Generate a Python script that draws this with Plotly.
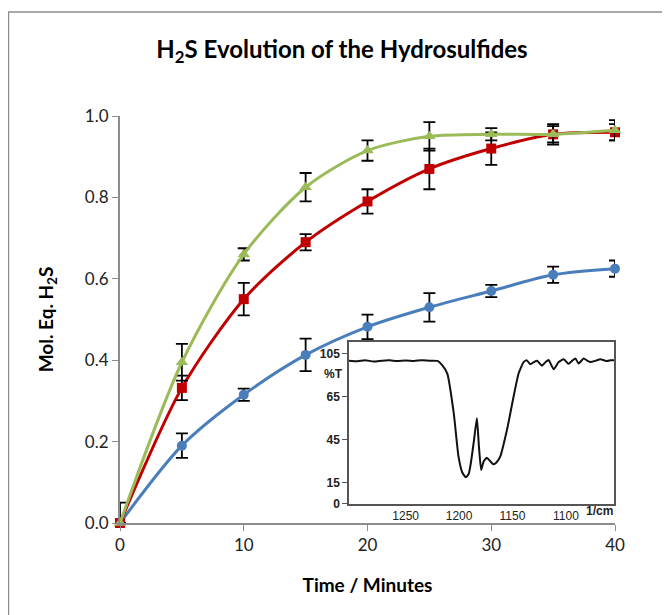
import plotly.graph_objects as go

# ---- main data ----
time_min = [0, 5, 10, 15, 20, 25, 30, 35, 40]

blue_vals = [0.0, 0.19, 0.315, 0.413, 0.482, 0.53, 0.57, 0.61, 0.625]
blue_err = [0.0, 0.03, 0.015, 0.04, 0.03, 0.035, 0.015, 0.02, 0.02]

red_vals = [0.0, 0.332, 0.55, 0.69, 0.79, 0.87, 0.92, 0.955, 0.96]
red_err = [0.0, 0.03, 0.04, 0.02, 0.03, 0.05, 0.04, 0.025, 0.02]

green_vals = [0.0, 0.395, 0.66, 0.825, 0.915, 0.95, 0.955, 0.955, 0.965]
green_err_plus = [0.05, 0.045, 0.015, 0.035, 0.025, 0.035, 0.015, 0.02, 0.025]
green_err_minus = [0.0, 0.045, 0.015, 0.035, 0.025, 0.035, 0.015, 0.02, 0.025]

y_ticks = [0.0, 0.2, 0.4, 0.6, 0.8, 1.0]
y_tick_labels = ["0.0", "0.2", "0.4", "0.6", "0.8", "1.0"]
x_ticks = [0, 10, 20, 30, 40]

# ---- inset IR spectrum (wavenumber 1/cm, %T) ----
ir_wavenumber = [1303, 1295, 1288, 1280, 1272, 1265, 1258, 1250, 1242, 1235, 1228, 1220,
                 1216, 1211, 1205, 1200.5, 1197, 1193.6, 1191, 1189, 1186, 1183.3,
                 1181.4, 1179.3, 1177.1, 1174, 1171, 1167.8, 1165, 1161.5, 1155.2,
                 1149, 1144.3, 1139.6, 1136.5, 1133.4, 1130, 1127, 1122.4, 1119,
                 1116.2, 1111.5, 1106.8, 1102, 1097.6, 1094, 1091.2, 1088.1, 1083.4,
                 1080, 1077.1, 1072, 1067.8, 1061.5, 1058, 1055]
ir_transmittance = [100, 99.6, 100.3, 99.4, 100, 100.2, 99.7, 100.1, 99.8, 100.3, 100, 99.8,
                    97, 91, 63.5, 33, 22, 18.6, 21, 28.4, 44.6, 59.8,
                    40, 23.7, 29.5, 32.3, 30, 27.7, 29, 33, 51.6,
                    74.8, 91, 99, 100.2, 97.5, 99, 100, 96.5, 99,
                    100.5, 94, 99, 101, 97.8, 100, 101.5, 98, 101.5,
                    100, 99, 100, 101, 99.7, 100.3, 100.2]
ir_tick_vals = [0, 15, 45, 75, 105]
ir_tick_labels = ["0", "15", "45", "65", "105"]
ir_x_ticks = [1250, 1200, 1150, 1100]

BLUE = "#4a7ebb"
RED = "#c00000"
GREEN = "#9bbb59"
FONT = "Lato, Open Sans, sans-serif"
INSET_FONT = "Liberation Sans, Arial, sans-serif"

fig = go.Figure()

def add_series(vals, plus, minus, color, symbol, size):
    fig.add_trace(go.Scatter(
        x=time_min, y=vals, mode="lines+markers",
        line=dict(color=color, width=3, shape="spline", smoothing=0.8),
        marker=dict(color=color, symbol=symbol, size=size),
        error_y=dict(type="data", array=plus, arrayminus=minus, symmetric=False,
                     color="black", thickness=1.8, width=6),
        cliponaxis=False, showlegend=False, xaxis="x", yaxis="y"))

add_series(blue_vals, blue_err, blue_err, BLUE, "circle", 10)
add_series(red_vals, red_err, red_err, RED, "square", 10)
add_series(green_vals, green_err_plus, green_err_minus, GREEN, "triangle-up", 11)

fig.add_trace(go.Scatter(
    x=ir_wavenumber, y=ir_transmittance, mode="lines",
    line=dict(color="#111111", width=2, shape="spline", smoothing=0.5),
    showlegend=False, xaxis="x2", yaxis="y2", hoverinfo="skip"))

fig.update_layout(
    width=670, height=615,
    margin=dict(l=112, r=63, t=108, b=100),
    paper_bgcolor="white", plot_bgcolor="white",
    font=dict(family=FONT, color="#222222"),
    title=dict(text="<b>H<sub>2</sub>S Evolution of the Hydrosulfides</b>",
               x=0.4485, xanchor="center", xref="paper",
               y=0.932, yref="container", yanchor="middle",
               font=dict(size=24, color="black", family=FONT)),
    xaxis=dict(domain=[0, 1], range=[0, 40], tickvals=x_ticks,
               showline=True, linecolor="#8c8c8c", linewidth=2,
               ticks="outside", ticklen=6, tickcolor="#8c8c8c", tickwidth=1,
               showgrid=False, zeroline=False,
               tickfont=dict(size=17, color="#222222"),
               title=dict(text="<b>Time / Minutes</b>", font=dict(size=19, color="black"), standoff=24)),
    yaxis=dict(domain=[0, 1], range=[0, 1.0], tickvals=y_ticks, ticktext=y_tick_labels,
               showline=True, linecolor="#8c8c8c", linewidth=2,
               ticks="outside", ticklen=6, tickcolor="#8c8c8c", tickwidth=1,
               showgrid=False, zeroline=False,
               tickfont=dict(size=17, color="#222222"),
               title=dict(text="<b>Mol. Eq. H<sub>2</sub>S</b>", font=dict(size=19, color="black"), standoff=26)),
    xaxis2=dict(domain=[0.4626, 0.998], range=[1303, 1055], anchor="y2",
                tickvals=ir_x_ticks, showline=True, mirror=True, linecolor="#555555", linewidth=1.5,
                ticks="", showgrid=False, zeroline=False,
                tickfont=dict(size=12, color="#222222", family=INSET_FONT),
                tickprefix="<b>", ticksuffix="</b>"),
    yaxis2=dict(domain=[0.0467, 0.4447], range=[0, 113], anchor="x2",
                tickvals=ir_tick_vals, ticktext=["<b>%s</b>" % t for t in ir_tick_labels],
                showline=True, mirror=True, linecolor="#555555", linewidth=1.5,
                ticks="outside", ticklen=5, tickcolor="#555555",
                showgrid=False, zeroline=False,
                tickfont=dict(size=12, color="#222222", family=INSET_FONT)),
)

# inset labels
fig.add_annotation(x=0.4626, y=0.366, xref="paper", yref="paper", xanchor="right", xshift=-4,
                   text="<b>%T</b>", showarrow=False,
                   font=dict(size=12, color="#222222", family=INSET_FONT))
fig.add_annotation(x=1.0, y=0.0467, xref="paper", yref="paper", xanchor="right", yanchor="top",
                   yshift=2, text="<b>1/cm</b>", showarrow=False,
                   font=dict(size=12, color="#222222", family=INSET_FONT))

# outer chart border
fig.add_shape(type="rect", xref="paper", yref="paper",
              x0=-0.2253, x1=1.3, y0=-0.4, y1=1.2555,
              line=dict(color="#8c8c8c", width=1.5), fillcolor="rgba(0,0,0,0)", layer="below")

fig.write_html("out.html")
